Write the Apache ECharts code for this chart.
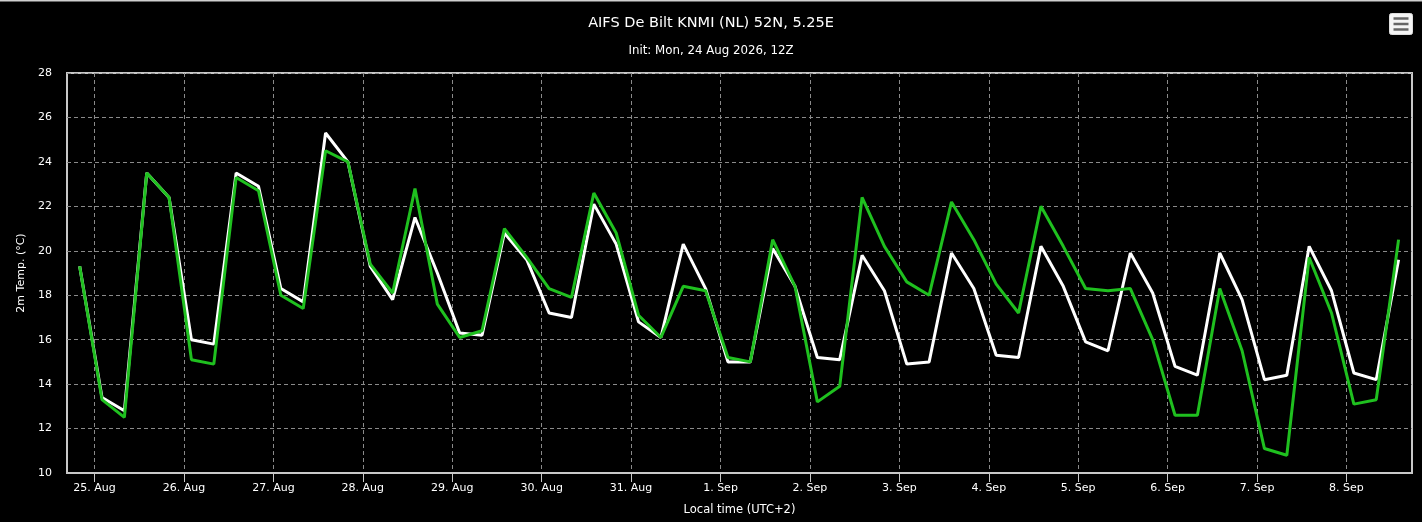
<!DOCTYPE html>
<html>
<head>
<meta charset="utf-8">
<script src="https://cdn.jsdelivr.net/npm/echarts@6/dist/echarts.min.js"></script>
<style>
html,body{margin:0;padding:0;background:#000;}
#chart{width:1422px;height:522px;}
</style>
</head>
<body>
<div id="chart"></div>
<script>
// Hours since 25 Aug 2026 00:00 local time (UTC+2), 6-hourly
var hours = [-4,2,8,14,20,26,32,38,44,50,56,62,68,74,80,86,92,98,104,110,116,122,128,134,140,146,152,158,164,170,176,182,188,194,200,206,212,218,224,230,236,242,248,254,260,266,272,278,284,290,296,302,308,314,320,326,332,338,344,350];
var whiteTemps = [19.3,13.4,12.8,23.5,22.4,16.0,15.8,23.5,22.9,18.3,17.7,25.3,24.0,19.3,17.8,21.5,19.0,16.3,16.2,20.8,19.6,17.2,17.0,22.1,20.3,16.8,16.1,20.3,18.3,15.0,15.0,20.1,18.4,15.2,15.1,19.8,18.2,14.9,15.0,19.9,18.3,15.3,15.2,20.2,18.4,15.9,15.5,19.9,18.1,14.8,14.4,19.9,17.8,14.2,14.4,20.2,18.2,14.5,14.2,19.6];
var greenTemps = [19.3,13.3,12.5,23.5,22.4,15.1,14.9,23.3,22.7,18.0,17.4,24.5,24.0,19.4,18.1,22.8,17.6,16.1,16.4,21.0,19.7,18.3,17.9,22.6,20.8,17.1,16.1,18.4,18.2,15.2,15.0,20.5,18.4,13.2,13.9,22.4,20.2,18.6,18.0,22.2,20.5,18.5,17.2,22.0,20.2,18.3,18.2,18.3,16.0,12.6,12.6,18.3,15.5,11.1,10.8,19.7,17.2,13.1,13.3,20.5];
var dayTicks = [0,24,48,72,96,120,144,168,192,216,240,264,288,312,336];
var dayLabels = ['25. Aug','26. Aug','27. Aug','28. Aug','29. Aug','30. Aug','31. Aug','1. Sep','2. Sep','3. Sep','4. Sep','5. Sep','6. Sep','7. Sep','8. Sep'];
var titleText = 'AIFS De Bilt KNMI (NL) 52N, 5.25E';
var subtitleText = 'Init: Mon, 24 Aug 2026, 12Z';
var yAxisName = '2m Temp. (°C)';
var xAxisName = 'Local time (UTC+2)';

function pairs(xs, ys){ return xs.map(function(x,i){ return [x, ys[i]]; }); }

var FONT = 'DejaVu Sans, Verdana, sans-serif';
var chart = echarts.init(document.getElementById('chart'), null, {renderer:'canvas'});
chart.setOption({
  backgroundColor: '#000',
  animation: false,
  title: [
    {text: titleText, left: 'center', top: 11, textStyle:{color:'#fff', fontSize:14.5, fontWeight:'normal', fontFamily:FONT}},
    {text: subtitleText, left: 'center', top: 40, textStyle:{color:'#fff', fontSize:11.8, fontWeight:'normal', fontFamily:FONT}}
  ],
  grid: {left: 67, right: 10, top: 73, bottom: 49, show: true, borderColor: '#c8c8c8', borderWidth: 2, containLabel: false},
  xAxis: {
    type: 'value', min: -7.4, max: 353.6,
    name: xAxisName, nameLocation: 'middle', nameGap: 31,
    nameTextStyle: {color:'#fff', fontSize: 11.5, fontFamily: FONT},
    axisLine: {show: true, onZero:false, lineStyle:{color:'#c8c8c8', width:2}},
    axisTick: {show: true, length: 9, lineStyle:{color:'#c8c8c8', width:1}, customValues: dayTicks},
    axisLabel: {color:'#fff', fontSize: 11, fontFamily: FONT, margin: 10, customValues: dayTicks,
      formatter: function(v){ var i = dayTicks.indexOf(v); return i >= 0 ? dayLabels[i] : ''; }},
    splitLine: {show: true, lineStyle:{color:'#8a8a8a', type:[4,3], width:1}}
  },
  yAxis: {
    type: 'value', min: 10, max: 28, interval: 2,
    name: yAxisName, nameLocation: 'middle', nameGap: 39, nameRotate: 90,
    nameTextStyle: {color:'#fff', fontSize: 11, fontFamily: FONT},
    axisLine: {show: false}, axisTick: {show: false},
    axisLabel: {color:'#fff', fontSize: 11, fontFamily: FONT, margin: 15},
    splitLine: {show: true, lineStyle:{color:'#8a8a8a', type:[4,3], width:1}}
  },
  series: [
    {name:'AIFS', type:'line', data: pairs(hours, whiteTemps), showSymbol:false, symbol:'none',
     lineStyle:{color:'#ffffff', width:3}, itemStyle:{color:'#ffffff'}, z:2},
    {name:'Ensemble', type:'line', data: pairs(hours, greenTemps), showSymbol:false, symbol:'none',
     lineStyle:{color:'#1fc01f', width:3}, itemStyle:{color:'#1fc01f'}, z:3}
  ],
  graphic: [
    {type:'rect', left:0, top:0, shape:{width:1422, height:1.5}, style:{fill:'#cfcfcf'}},
    {type:'group', left:1389, top:13, children:[
      {type:'rect', shape:{x:0, y:0, width:23, height:21, r:2}, style:{fill:'#f5f5f5', stroke:'#dddddd', lineWidth:1}},
      {type:'line', shape:{x1:4, y1:5, x2:19, y2:5}, style:{stroke:'#666', lineWidth:2.5}},
      {type:'line', shape:{x1:4, y1:10.5, x2:19, y2:10.5}, style:{stroke:'#666', lineWidth:2.5}},
      {type:'line', shape:{x1:4, y1:16, x2:19, y2:16}, style:{stroke:'#666', lineWidth:2.5}}
    ]}
  ]
});
</script>
</body>
</html>
